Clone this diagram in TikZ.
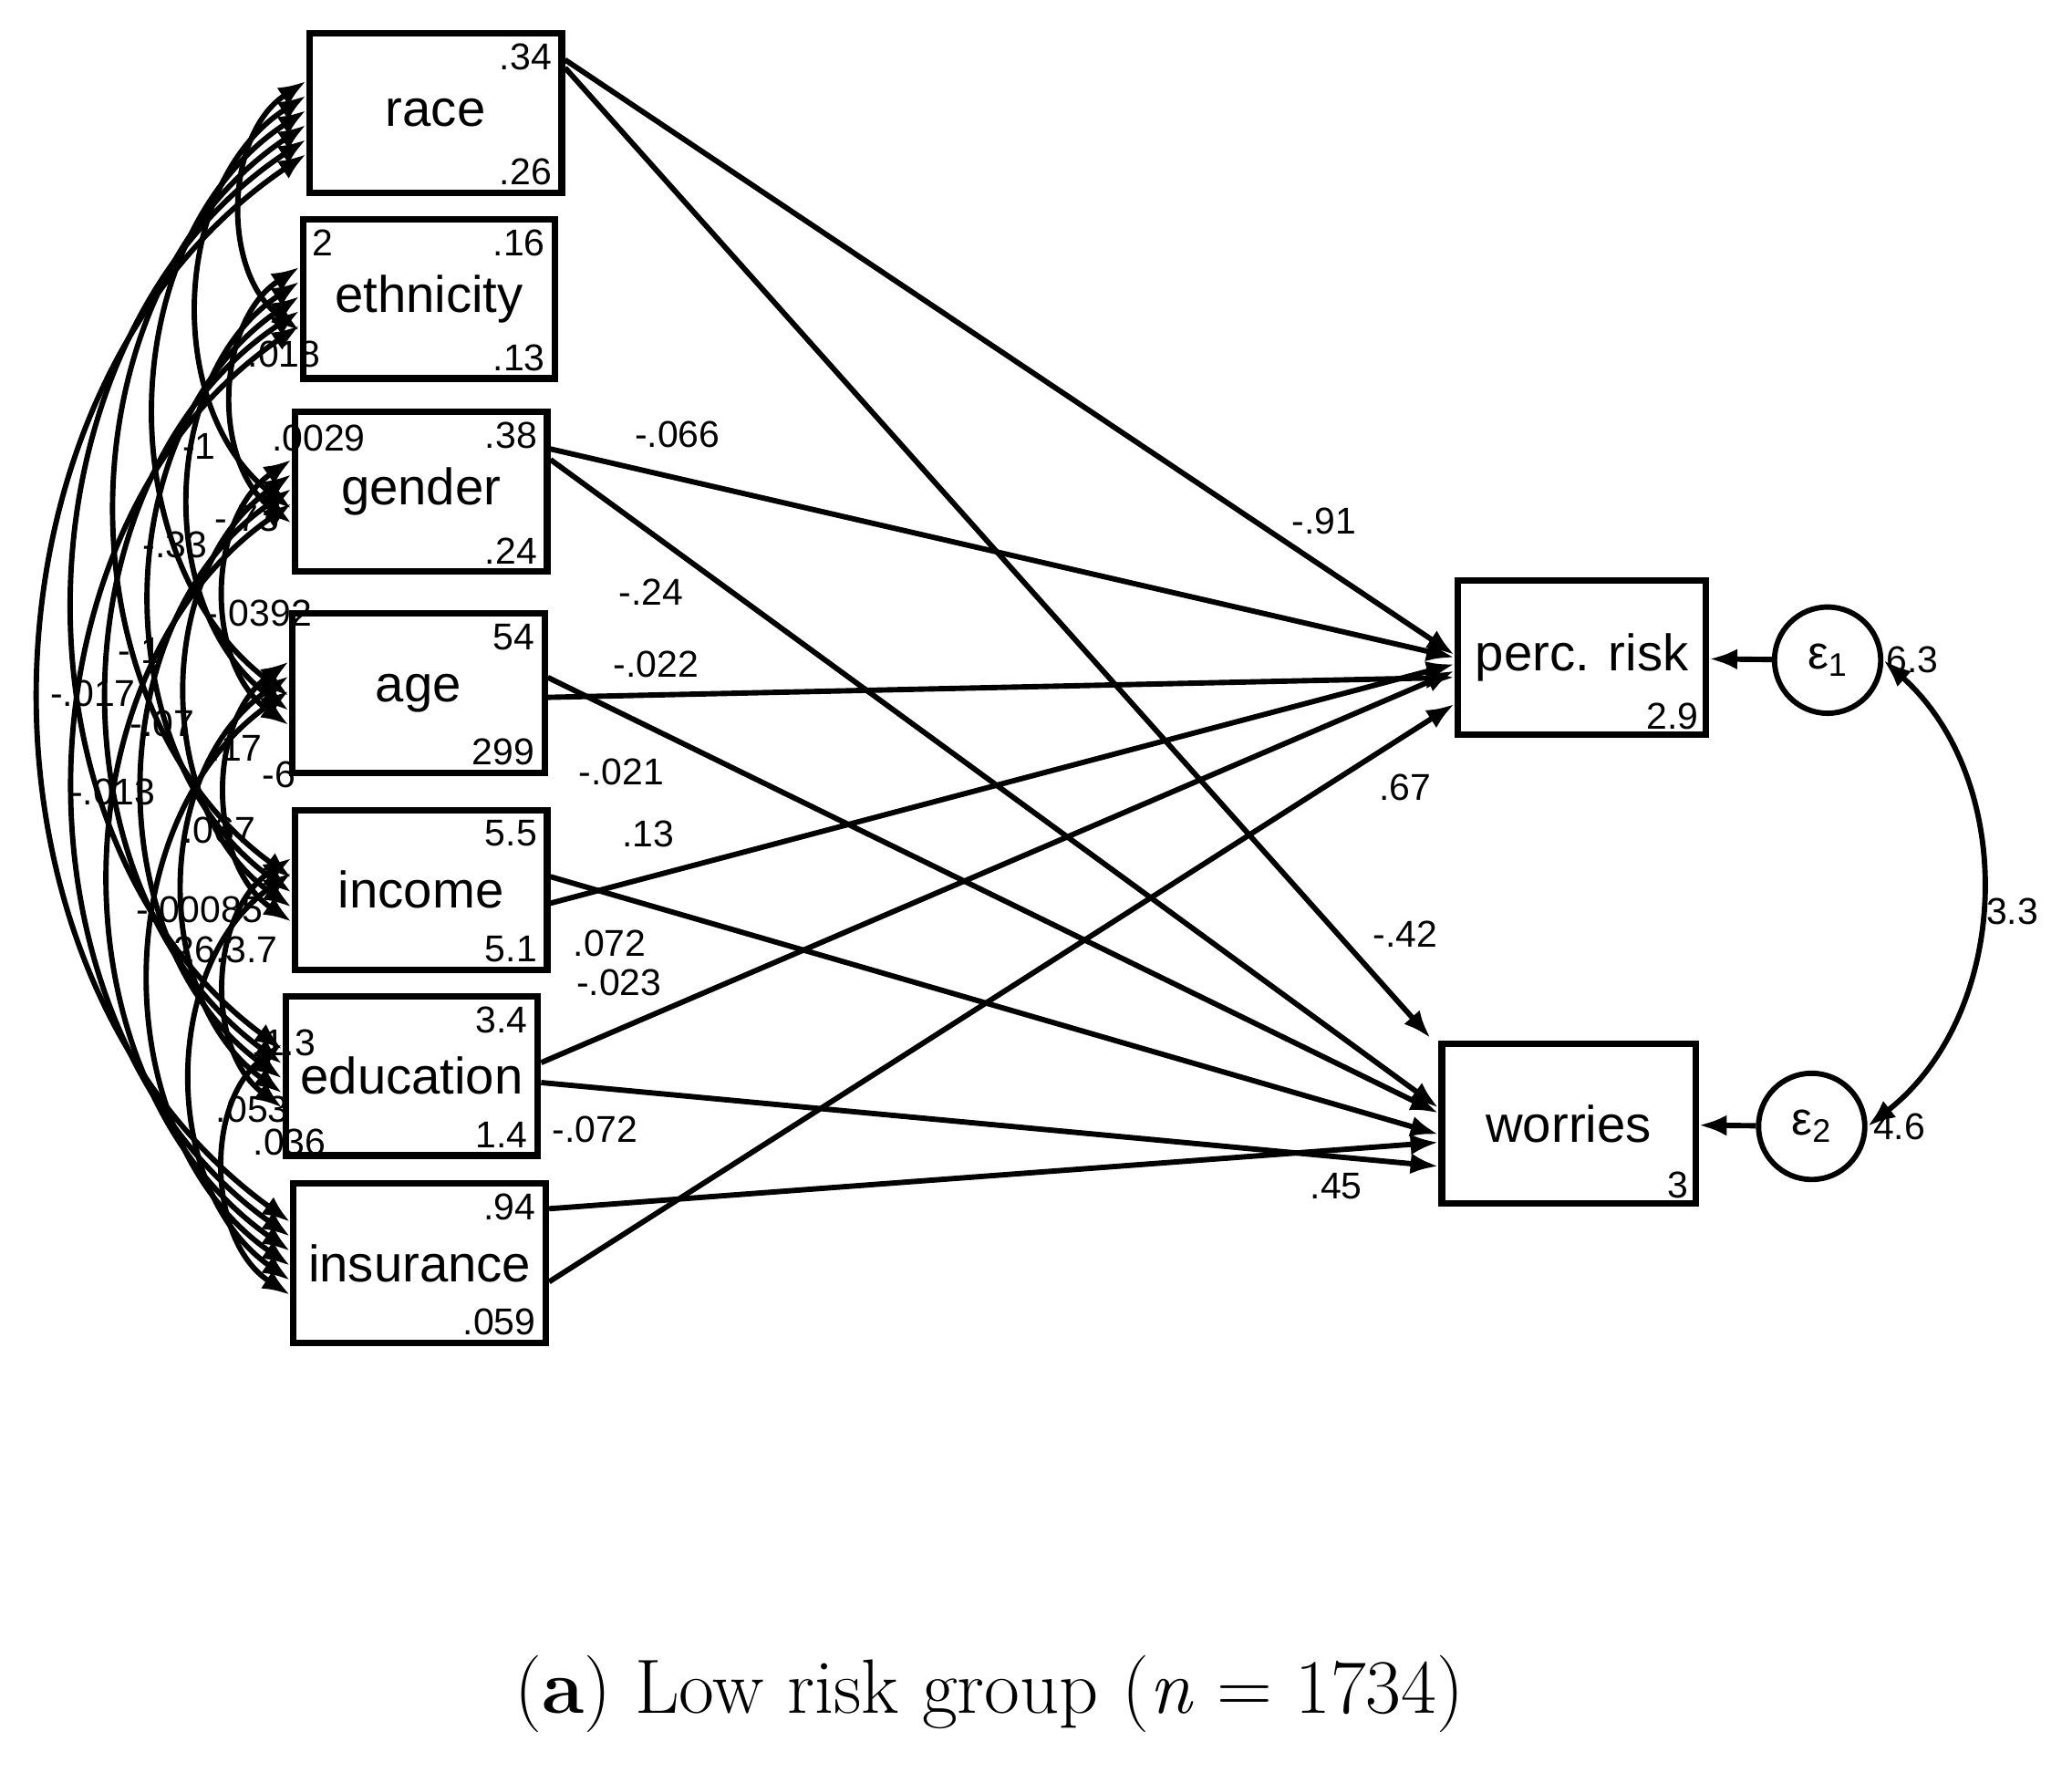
\documentclass[tikz,border=0pt]{standalone}
\usepackage{fontspec}
\newfontfamily\sansf{Liberation Sans}
\usetikzlibrary{calc,arrows.meta}
\begin{document}
\begin{tikzpicture}[x=0.02cm,y=-0.02cm,
  box/.style={draw,line width=2.8pt,minimum width=3.8cm,minimum height=2.4cm,inner sep=0pt,font=\sansf\fontsize{22}{24}\selectfont},
  num/.style={font=\sansf\fontsize{16}{18}\selectfont,inner sep=1pt},
  lab/.style={font=\sansf\fontsize{16}{18}\selectfont,inner sep=1pt},
  arr/.style={line width=2.3pt,-{Latex[length=12pt,width=9pt]}},
  cov/.style={line width=2.3pt,{Latex[length=12pt,width=9pt]}-{Latex[length=12pt,width=9pt]}},
  err/.style={draw,circle,line width=2.3pt,minimum size=1.6cm,inner sep=0pt,font=\sansf\fontsize{20}{22}\selectfont}]
\useasboundingbox (0,0) rectangle (1560,1342);
\node[box] (b1) at (328,85) {race};
\node[box] (b2) at (323,225) {ethnicity};
\node[box] (b3) at (317,370) {gender};
\node[box] (b4) at (315,522) {age};
\node[box] (b5) at (317,670) {income};
\node[box] (b6) at (310,810) {education};
\node[box] (b7) at (316,951) {insurance};
\node[box,minimum width=3.74cm,minimum height=2.32cm] (pr) at (1191,495) {perc. risk};
\node[box,minimum width=3.82cm] (wo) at (1181,846) {worries};
\node[err] (e1) at (1376,497) {ε\textsubscript{1}};
\node[err] (e2) at (1364,848) {ε\textsubscript{2}};
% numbers in boxes
\foreach \b/\t/\u in {b1/.34/.26,b2/.16/.13,b3/.38/.24,b4/54/299,b5/5.5/5.1,b6/3.4/1.4,b7/.94/.059}{
  \node[num,anchor=north east] (\b t) at ($(\b.north east)+(-8,8)$) {\t};
  \node[num,anchor=south east] (\b u) at ($(\b.south east)+(-8,-6)$) {\u};}
\node[num,anchor=south east] (pru) at ($(pr.south east)+(-6,-4)$) {2.9};
\node[num,anchor=south east] (wou) at ($(wo.south east)+(-6,-4)$) {3};
% covariances
\foreach \i in {1,...,7}{\foreach \j in {1,...,7}{
  \ifnum\i<\j
    \draw[cov] ($(b\i.west)+(0,{(\j-\i)*11-35})$) to[bend right=55] ($(b\j.west)+(0,{(\j-\i)*(-11)+35})$);
  \fi}}
% regressions
\draw[arr] ($(b1.east)+(0,-40)$) -- ($(pr.west)+(0,-2)$);
\draw[arr] ($(b1.east)+(0,-34)$) -- ($(wo.north west)+(-6,-2)$);
\draw[arr] ($(b3.east)+(0,-32)$) -- ($(pr.west)+(0,0)$);
\draw[arr] ($(b3.east)+(0,-24)$) -- ($(wo.west)+(0,-12)$);
\draw[arr] ($(b4.east)+(0,3)$) -- ($(pr.west)+(0,15)$);
\draw[arr] ($(b4.east)+(0,-12)$) -- ($(wo.west)+(0,-8)$);
\draw[arr] ($(b5.east)+(0,10)$) -- ($(pr.west)+(0,5)$);
\draw[arr] ($(b5.east)+(0,-10)$) -- ($(wo.west)+(0,8)$);
\draw[arr] ($(b6.east)+(0,-10)$) -- ($(pr.west)+(0,10)$);
\draw[arr] ($(b6.east)+(0,5)$) -- ($(wo.west)+(0,32)$);
\draw[arr] ($(b7.east)+(0,-41)$) -- ($(wo.west)+(0,14)$);
\draw[arr] ($(b7.east)+(0,14)$) -- ($(pr.west)+(0,35)$);
\draw[arr] (e1) -- (pr);
\draw[arr] (e2) -- (wo);
\draw[cov] (e1.east) to[bend left=50] (e2.east);
% path labels
\foreach \n/\p/\t in {l1/{(510,327)}/-.066,l2/{(997,392)}/-.91,l3/{(490,446)}/-.24,l4/{(494,500)}/-.022,
  l5/{(468,581)}/-.021,l6/{(1058,593)}/.67,l7/{(488,628)}/.13,l8/{(1058,703)}/-.42,l9/{(459,710)}/.072,
  l10/{(466,740)}/-.023,l11/{(448,850)}/-.072,l12/{(1006,893)}/.45,l13/{(1440,497)}/6.3,
  l14/{(1430,848)}/4.6,l15/{(1515,686)}/3.3}
  \node[lab] (\n) at \p {\t};
% covariance labels
\foreach \n/\p/\t in {c1/{(243,183)}/2,c2/{(214,267)}/.018,c3/{(240,330)}/.0029,c4/{(150,336)}/-1,
  c5/{(132,410)}/-.33,c6/{(186,390)}/-.73,c7/{(195,462)}/-.0392,c8/{(105,490)}/-.1,c9/{(70,522)}/-.017,
  c10/{(122,545)}/-.07,c11/{(178,563)}/.17,c12/{(210,583)}/-6,c13/{(85,596)}/-.013,c14/{(165,625)}/.067,
  c15/{(150,685)}/-.00085,c16/{(170,715)}/26.3.7,c17/{(218,785)}/1.3,c18/{(190,835)}/.053,c19/{(218,860)}/.036}
  \node[lab] (\n) at \p {\t};
\node[font=\fontsize{33}{38}\selectfont] (cap) at (745,1275) {(\textbf{a}) Low risk group (\textit{n} = 1734)};
\end{tikzpicture}
\end{document}
